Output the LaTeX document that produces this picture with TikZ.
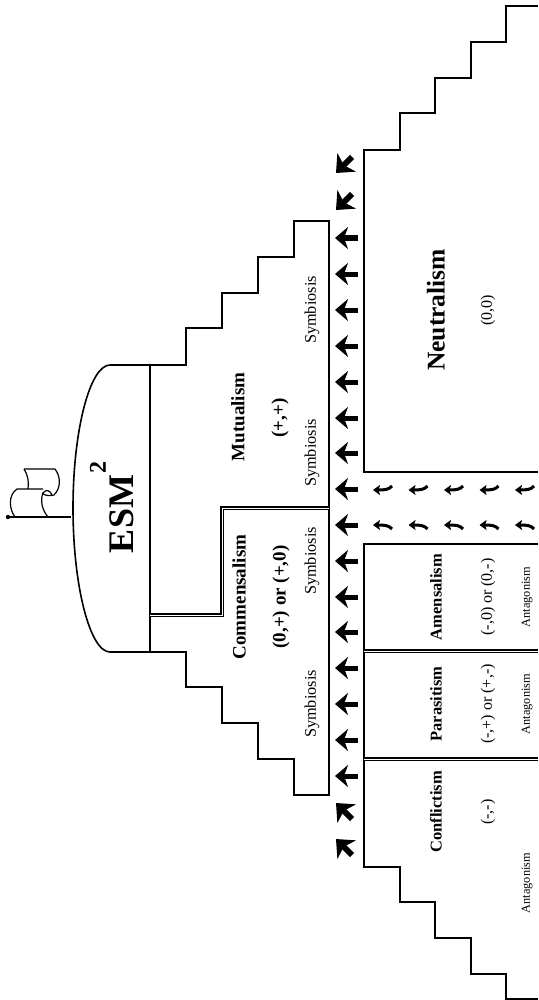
\documentclass[tikz,border=0pt]{standalone}
\usepackage{fontspec}
\setmainfont{Liberation Serif}
\usetikzlibrary{arrows.meta}

\begin{document}
\begin{tikzpicture}[
        x=1pt, y=-1pt,
        wall/.style={draw, line width=1.6pt, line join=miter},
        split/.style={draw, line width=1.5pt, double, double distance=0.7pt},
        upname/.style={rotate=90, font=\fontsize{19}{21}\selectfont\bfseries},
        lowname/.style={rotate=90, font=\fontsize{16.5}{18}\selectfont\bfseries},
        kindup/.style={rotate=90, font=\fontsize{16.3}{18}\selectfont},
        kindlow/.style={rotate=90, font=\fontsize{12.3}{14}\selectfont},
        signlow/.style={rotate=90, font=\fontsize{16}{18}\selectfont},
        bigflow/.style={draw, line width=5pt, -{Stealth[length=13pt, width=22pt, inset=4pt]}},
        cornerflow/.style={draw, line width=6pt, -{Stealth[length=15pt, width=26pt, inset=4pt]}},
        smallflow/.style={draw, line width=3pt, -{Stealth[length=7pt, width=10pt, inset=1.5pt]}}
    ]
        \useasboundingbox (0,0) rectangle (538,1000);

        % Dome and flag
        \draw[wall] (150,365) -- (110,365) .. controls (90,365) and (73,430) .. (73,508)
            .. controls (73,586) and (90,652) .. (110,652) -- (150,652);
        \draw[wall] (150,365) -- (150,652);
        \draw[wall, line width=2.4pt] (150,570) -- (150,652);
        \draw[wall] (8,517) -- (71,517);
        \fill (8,517) circle (2.2);
        \draw[line width=1.2pt] (24,469) -- (55,469) .. controls (61,477) and (61,488) .. (54,495)
            .. controls (50,496) and (45,496) .. (42,493);
        \draw[line width=1.2pt] (24,469) .. controls (28,475) and (29,482) .. (28,489);
        \draw[line width=1.2pt] (48,517) .. controls (42,510) and (40,500) .. (43,493)
            .. controls (46,489) and (50,490) .. (52,495);
        \draw[line width=1.2pt] (15,517) .. controls (9,509) and (8,495) .. (17,489) -- (43,489);

        % Upper stairs
        \draw[wall] (150,365) -- (186,365) -- (186,328) -- (222,328) -- (222,293) -- (258,293)
            -- (258,257) -- (294,257) -- (294,221) -- (329,221) -- (329,795) -- (294,795)
            -- (294,759) -- (258,759) -- (258,723) -- (222,723) -- (222,687) -- (186,687)
            -- (186,652) -- (150,652);
        \draw[split] (150,615) -- (222,615) -- (222,508) -- (329,508);

        % Lower stairs
        \draw[wall] (538,6) -- (506,6) -- (506,42) -- (471,42) -- (471,78) -- (435,78)
            -- (435,113) -- (400,113) -- (400,150) -- (364,150) -- (364,472) -- (538,472);
        \draw[wall] (538,544) -- (364,544) -- (364,867) -- (400,867) -- (400,902) -- (435,902)
            -- (435,938) -- (471,938) -- (471,974) -- (506,974) -- (506,999) -- (538,999);
        \draw[split] (364,651) -- (538,651);
        \draw[split] (364,759) -- (538,759);

        % Title
        \node[rotate=90, font=\fontsize{36}{38}\selectfont\bfseries] (esm) at (122,514) {ESM};
        \node[rotate=90, font=\fontsize{24}{26}\selectfont\bfseries] (esmsq) at (98,467) {2};

        % Upper labels
        \node[upname] (mutualism) at (238,417) {Mutualism};
        \node[upname] (mutualsign) at (280,418) {(+,+)};
        \node[kindup] (symb_a) at (312,310) {Symbiosis};
        \node[kindup] (symb_b) at (312,453) {Symbiosis};
        \node[upname] (commensalism) at (239,597) {Commensalism};
        \node[upname] (commsign) at (281,597) {(0,+) or (+,0)};
        \node[kindup] (symb_c) at (312,561) {Symbiosis};
        \node[kindup] (symb_d) at (312,704) {Symbiosis};

        % Lower labels
        \node[rotate=90, font=\fontsize{25.5}{28}\selectfont\bfseries] (neutralism) at (436,310) {Neutralism};
        \node[signlow] (neutralsign) at (488,310) {(0,0)};
        \node[lowname] (amensalism) at (436,597) {Amensalism};
        \node[signlow] (amensign) at (488,597) {(-,0) or (0,-)};
        \node[kindlow] (anta_a) at (527,597) {Antagonism};
        \node[lowname] (parasitism) at (436,704) {Parasitism};
        \node[signlow] (parasign) at (488,704) {(-,+) or (+,-)};
        \node[kindlow] (anta_b) at (527,704) {Antagonism};
        \node[lowname] (conflictism) at (436,812) {Conflictism};
        \node[signlow] (confsign) at (488,812) {(-,-)};
        \node[kindlow] (anta_c) at (527,883) {Antagonism};

        % Channel arrows
        \foreach \y in {238,274,310,346,382,418,453,489,525,561,597,632,668,704,740,776}
            \draw[bigflow] (358,\y) -- (335,\y);
        \foreach \y in {165,202}
            \draw[cornerflow] (352,\y-8) -- (336,\y+8);
        \foreach \y in {811,847}
            \draw[cornerflow] (352,\y+8) -- (336,\y-8);

        % Small curved arrows
        \foreach \x in {373,408.5,444,479.5,515} {
            \draw[smallflow] (\x+19,486) .. controls (\x+16,489.5) and (\x+12,490) .. (\x,490);
            \draw[smallflow] (\x+19,529) .. controls (\x+16,525.5) and (\x+12,525) .. (\x,525);
        }
    \end{tikzpicture}
\end{document}
